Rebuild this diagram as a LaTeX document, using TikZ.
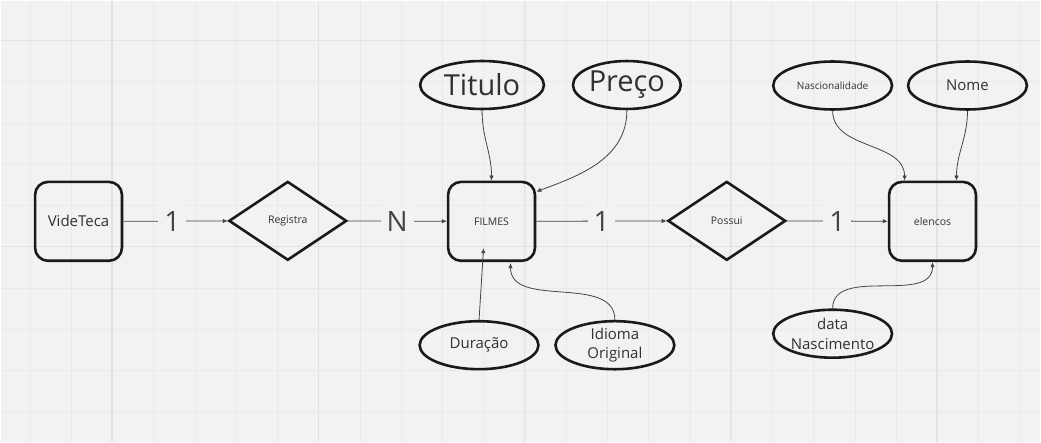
\documentclass[tikz,border=0pt]{standalone}
\usepackage{fontspec}
\setmainfont{Open Sans}
\usetikzlibrary{shapes.geometric, arrows.meta}
\definecolor{bg}{HTML}{F2F2F2}
\definecolor{gridminor}{HTML}{E9E9E9}
\definecolor{gridmajor}{HTML}{E2E2E2}
\definecolor{ink}{HTML}{1A1A1A}
\definecolor{wire}{HTML}{444444}

\begin{document}
\begin{tikzpicture}[x=1pt, y=1pt,
    entity/.style={rectangle, draw=ink, line width=2.6pt, rounded corners=13pt, minimum width=87pt, minimum height=79pt, inner sep=0pt, text=ink!90},
    rel/.style={diamond, draw=ink, line width=2.6pt, minimum width=118pt, minimum height=79pt, inner sep=0pt, text=ink!90, font=\fontsize{10.5}{12}\selectfont},
    attr/.style={ellipse, draw=ink, line width=2.6pt, minimum width=119pt, minimum height=48pt, inner sep=0pt, align=center, text=ink!90, font=\fontsize{15}{19}\selectfont},
    card/.style={fill=bg, inner sep=6pt, text=wire, font=\fontsize{28}{30}\selectfont},
    link/.style={draw=wire, line width=0.8pt, -{Latex[length=5pt, width=4.5pt]}}]
    % canvas
    \fill[bg] (0,0) rectangle (1041,-442);
    \draw[gridminor, line width=0.8pt, step=41.3pt, xshift=29.5pt, yshift=-40pt] (-29.5,-402) grid (1011.5,40);
    \draw[gridmajor, line width=1.2pt, step=206.5pt, xshift=111.5pt, yshift=-40pt] (-111.5,-402) grid (929.5,40);
    \useasboundingbox (0,0) rectangle (1041,-442);

    % entities and relations
    \node[entity, font=\fontsize{15}{18}\selectfont] (videteca) at (78, -221) {VideTeca};
    \node[rel] (registra) at (287.5, -220.5) {Registra};
    \node[entity, font=\fontsize{10.5}{12}\selectfont] (filmes) at (491.5, -221) {FILMES};
    \node[rel] (possui) at (727, -220.5) {Possui};
    \node[entity, font=\fontsize{10.5}{12}\selectfont] (elencos) at (933, -221) {elencos};

    % attributes
    \node[attr, minimum width=124pt, font=\fontsize{29}{32}\selectfont] (titulo) at (482, -84.5) {Titulo};
    \node[attr, minimum width=100pt, font=\fontsize{29}{32}\selectfont] (preco) at (627, -84.5) {Preço};
    \node[attr, font=\fontsize{10}{12}\selectfont] (nasc) at (833, -85) {Nascionalidade};
    \node[attr] (nome) at (968, -85) {Nome};
    \node[attr, font=\fontsize{15}{20}\selectfont] (datanasc) at (833, -333.5) {data\\Nascimento};
    \node[attr] (duracao) at (479, -345) {Duração};
    \node[attr] (idioma) at (615, -345) {Idioma\\Original};

    \draw[link] (videteca) -- node[card, pos=0.47] {1} (registra);
    \draw[link] (registra) -- node[card] {N} (filmes);
    \draw[link] (filmes) -- node[card] {1} (possui);
    \draw[link] (possui) -- node[card] {1} (elencos);

    \draw[link] (titulo.south) to[out=-90, in=90] (filmes.north);
    \draw[link] (preco.south) to[out=-90, in=20] ([yshift=-11pt]filmes.north east);
    \draw[link] (duracao.north) -- ([xshift=-8pt, yshift=14pt]filmes.south);
    \draw[link] (idioma.north) to[out=90, in=-90] ([xshift=19pt, yshift=-1pt]filmes.south);

    \draw[link] (nasc.south) to[out=-90, in=90] ([xshift=-28pt]elencos.north);
    \draw[link] (nome.south) to[out=-90, in=90] ([xshift=24pt]elencos.north);
    \draw[link] (datanasc.north) to[out=90, in=-90] (elencos.south);
\end{tikzpicture}
\end{document}
